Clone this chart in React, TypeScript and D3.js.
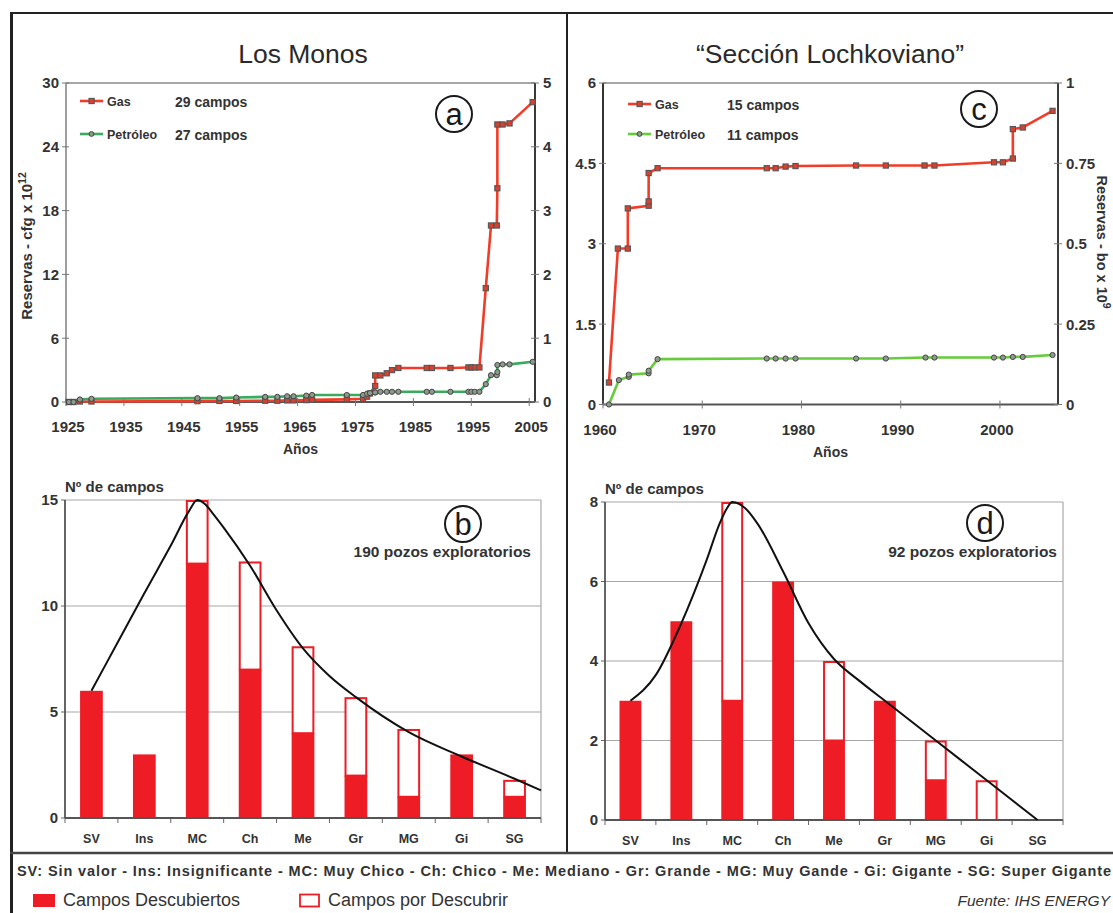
import React from "react";
import * as d3 from "d3";

// ---------- DATA ----------
// Panel a: Los Monos (cumulative reserves)
const yearsA = [1925.5, 1926.3, 1927.4, 1929.4, 1947.7, 1951.5, 1954.4, 1959.4, 1961.5, 1963.2, 1964.3, 1966.5, 1967.5, 1973.5, 1976.3, 1977.0, 1977.5, 1978.4, 1978.4, 1979.3, 1980.4, 1981.3, 1982.4, 1987.3, 1988.2, 1991.4, 1994.5, 1995.0, 1995.6, 1996.4, 1997.5, 1998.4, 1999.4, 1999.5, 1999.5, 2000.4, 2001.6, 2005.6];
const gasA = [0.0, 0.0, 0.05, 0.05, 0.08, 0.1, 0.1, 0.12, 0.12, 0.15, 0.15, 0.18, 0.2, 0.25, 0.3, 0.5, 0.8, 1.5, 2.5, 2.5, 2.7, 3.0, 3.2, 3.2, 3.2, 3.2, 3.25, 3.25, 3.25, 3.25, 10.7, 16.6, 16.6, 20.1, 26.1, 26.1, 26.2, 28.2];
const oilA = [0.0, 0.0, 0.04, 0.05, 0.06, 0.06, 0.07, 0.08, 0.08, 0.09, 0.09, 0.1, 0.11, 0.11, 0.11, 0.13, 0.14, 0.15, 0.15, 0.16, 0.16, 0.16, 0.16, 0.16, 0.16, 0.16, 0.16, 0.16, 0.16, 0.16, 0.28, 0.42, 0.42, 0.47, 0.58, 0.59, 0.59, 0.63];

// Panel c: Sección Lochkoviano
const yearsCGas = [1960.6, 1961.5, 1962.5, 1962.5, 1964.6, 1964.6, 1964.6, 1965.5, 1976.5, 1977.4, 1978.4, 1979.4, 1985.5, 1988.5, 1992.4, 1993.4, 1999.4, 2000.3, 2001.3, 2001.3, 2002.3, 2005.3];
const gasC = [0.41, 2.91, 2.91, 3.66, 3.71, 3.79, 4.32, 4.41, 4.41, 4.41, 4.44, 4.45, 4.46, 4.46, 4.46, 4.46, 4.52, 4.52, 4.59, 5.14, 5.17, 5.48];
const yearsCOil = [1960.6, 1961.6, 1962.6, 1962.6, 1964.6, 1964.6, 1965.5, 1976.5, 1977.4, 1978.4, 1979.4, 1985.5, 1988.5, 1992.5, 1993.4, 1999.4, 2000.3, 2001.3, 2002.3, 2005.3];
const oilC = [0.0, 0.076, 0.086, 0.093, 0.097, 0.105, 0.141, 0.143, 0.143, 0.143, 0.143, 0.143, 0.143, 0.146, 0.146, 0.146, 0.146, 0.148, 0.148, 0.154];

// Bar panels
const categories = ["SV", "Ins", "MC", "Ch", "Me", "Gr", "MG", "Gi", "SG"];
const discoveredB = [6, 3, 12, 7, 4, 2, 1, 3, 1];
const totalB = [6, 3, 15, 12.1, 8.1, 5.7, 4.2, 3, 1.8];
// fitted curve (position in category units, value)
const curveBPos = [0, 0.5, 1, 1.5, 1.85, 2, 2.15, 2.3, 2.5, 3, 3.5, 4, 4.5, 5, 6, 7, 8, 8.5];
const curveB = [6, 8.3, 10.6, 12.85, 14.5, 15, 14.8, 14.35, 13.7, 11.9, 9.8, 8.0, 6.7, 5.7, 4.05, 2.9, 1.85, 1.3];
const discoveredD = [3, 5, 3, 6, 2, 3, 1, 0, 0];
const totalD = [3, 5, 8, 6, 4, 3, 2, 1, 0];
const curveDPos = [0, 0.5, 1, 1.5, 1.75, 1.9, 2, 2.25, 2.5, 3, 3.5, 4, 4.5, 5, 6, 7, 8];
const curveD = [3, 3.65, 4.95, 6.55, 7.45, 7.85, 8, 7.85, 7.45, 6.25, 4.95, 4.05, 3.5, 3.0, 2.0, 1.0, 0];

// Ticks
const ticksAx = [1925, 1935, 1945, 1955, 1965, 1975, 1985, 1995, 2005];
const ticksAleft = [0, 6, 12, 18, 24, 30];
const ticksAright = [0, 1, 2, 3, 4, 5];
const ticksCx = [1960, 1970, 1980, 1990, 2000];
const ticksCleft = [0, 1.5, 3, 4.5, 6];
const ticksCright = [0, 0.25, 0.5, 0.75, 1];
const ticksB = [0, 5, 10, 15];
const ticksD = [0, 2, 4, 6, 8];

const footerText = "SV: Sin valor - Ins: Insignificante - MC: Muy Chico - Ch: Chico - Me: Mediano - Gr: Grande - MG: Muy Gande - Gi: Gigante - SG: Super Gigante";

// ---------- STYLE ----------
const FONT = "'Liberation Sans', Arial, Helvetica, sans-serif";
const RED = "#ee1c25";
const GAS = "#f23c28";
const TXT = "#2a2a2a";

function LinePanel(p: any) {
  const x = d3.scaleLinear().domain(p.xDomain).range([p.x0, p.x1]);
  const yL = d3.scaleLinear().domain([0, p.leftMax]).range([p.yBot, p.yTop]);
  const yR = d3.scaleLinear().domain([0, p.rightMax]).range([p.yBot, p.yTop]);
  const gasLine = d3.line<number>().x((_, i) => x(p.gasYears[i])).y((d) => yL(d));
  const oilLine = d3.line<number>().x((_, i) => x(p.oilYears[i])).y((d) => yR(d));
  const fmt = (v: number) => String(v);
  return (
    <g fontFamily={FONT}>
      <line x1={p.x0} x2={p.x1} y1={p.yTop} y2={p.yTop} stroke="#8a8a8a" strokeWidth={1.5} />
      <line x1={p.x0} x2={p.x0} y1={p.yTop} y2={p.yBot} stroke={p.leftAxisColor} strokeWidth={p.leftAxisWidth} />
      <line x1={p.x1} x2={p.x1} y1={p.yTop} y2={p.yBot} stroke="#3a3a3a" strokeWidth={2} />
      <line x1={p.x0} x2={p.x1} y1={p.yBot} y2={p.yBot} stroke="#555" strokeWidth={2} />
      {p.leftTicks.map((t: number) => (
        <g key={"l" + t}>
          <line x1={p.x0 - 4} x2={p.x0 + 3} y1={yL(t)} y2={yL(t)} stroke="#777" strokeWidth={1} />
          <text x={p.x0 - 7} y={yL(t)} dy="0.36em" textAnchor="end" fontSize={15} fontWeight="bold" fill="#333">{fmt(t)}</text>
        </g>
      ))}
      {p.rightTicks.map((t: number) => (
        <g key={"r" + t}>
          <line x1={p.x1 - 4} x2={p.x1 + 4} y1={yR(t)} y2={yR(t)} stroke="#777" strokeWidth={1} />
          <text x={p.x1 + 8} y={yR(t)} dy="0.36em" textAnchor="start" fontSize={15} fontWeight="bold" fill="#333">{fmt(t)}</text>
        </g>
      ))}
      {p.xTicks.map((t: number) => (
        <g key={"x" + t}>
          <line x1={x(t)} x2={x(t)} y1={p.yBot - 4} y2={p.yBot + 4} stroke="#777" strokeWidth={1} />
          <text x={x(t) + p.xLabelShift} y={p.yBot + 30} textAnchor="middle" fontSize={15} fontWeight="bold" fill="#333">{t}</text>
        </g>
      ))}
      <text x={(p.x0 + p.x1) / 2} y={p.yBot + 52} textAnchor="middle" fontSize={14} fontWeight="bold" fill="#333">Años</text>
      <path d={gasLine(p.gas) || ""} fill="none" stroke={GAS} strokeWidth={2.6} strokeLinejoin="round" />
      <path d={oilLine(p.oil) || ""} fill="none" stroke={p.oilColor} strokeWidth={2.6} strokeLinejoin="round" />
      {p.gas.map((v: number, i: number) => (
        <rect key={"gm" + i} x={x(p.gasYears[i]) - 2.6} y={yL(v) - 2.6} width={5.2} height={5.2} fill="#d9412e" stroke="#555" strokeWidth={1.1} />
      ))}
      {p.oil.map((v: number, i: number) => (
        <circle key={"om" + i} cx={x(p.oilYears[i])} cy={yR(v)} r={2.6} fill="#8f9a8f" stroke="#444" strokeWidth={1} />
      ))}
      {/* legend */}
      <line x1={p.lgX} x2={p.lgX + 23} y1={p.lgY1} y2={p.lgY1} stroke={GAS} strokeWidth={2.6} />
      <rect x={p.lgX + 9} y={p.lgY1 - 2.6} width={5.2} height={5.2} fill="#d9412e" stroke="#555" strokeWidth={1.1} />
      <text x={p.lgX + 27} y={p.lgY1 + 4.5} fontSize={12.5} fontWeight="bold" fill="#333">Gas</text>
      <line x1={p.lgX} x2={p.lgX + 23} y1={p.lgY2} y2={p.lgY2} stroke={p.oilColor} strokeWidth={2.6} />
      <circle cx={p.lgX + 11.5} cy={p.lgY2} r={2.4} fill="#8f9a8f" stroke="#444" strokeWidth={1} />
      <text x={p.lgX + 27} y={p.lgY2 + 4.5} fontSize={12.5} fontWeight="bold" fill="#333">Petróleo</text>
      <text x={p.cntX} y={p.lgY1 + 6} fontSize={14} fontWeight="bold" fill="#333">{p.gasCount}</text>
      <text x={p.cntX} y={p.lgY2 + 6} fontSize={14} fontWeight="bold" fill="#333">{p.oilCount}</text>
    </g>
  );
}

function BarPanel(p: any) {
  const x = d3.scaleLinear().domain([-0.5, categories.length - 0.5]).range([p.x0, p.x1]);
  const y = d3.scaleLinear().domain([0, p.yMax]).range([p.yBot, p.yTop]);
  const band = (p.x1 - p.x0) / categories.length;
  const bw = band * 0.43;
  const curve = d3.line<number>().x((_, i) => x(p.curvePos[i])).y((d) => y(d)).curve(d3.curveMonotoneX);
  const bounds = d3.range(categories.length + 1).map((i) => i - 0.5);
  return (
    <g fontFamily={FONT}>
      {p.ticks.filter((t: number) => t > 0).map((t: number) => (
        <line key={"g" + t} x1={p.x0} x2={p.x1} y1={y(t)} y2={y(t)} stroke="#a8a8a8" strokeWidth={1.2} />
      ))}
      <line x1={p.x1} x2={p.x1} y1={p.yTop} y2={p.yBot} stroke="#a8a8a8" strokeWidth={1.2} />
      {p.ticks.map((t: number) => (
        <g key={"t" + t}>
          <line x1={p.x0 - 4} x2={p.x0} y1={y(t)} y2={y(t)} stroke="#666" strokeWidth={1} />
          <text x={p.x0 - 7} y={y(t)} dy="0.36em" textAnchor="end" fontSize={15} fontWeight="bold" fill="#333">{t}</text>
        </g>
      ))}
      {categories.map((c, i) => (
        <g key={c}>
          {p.total[i] > p.discovered[i] && (
            <rect x={x(i) - bw / 2 + 1} y={y(p.total[i]) + 1} width={bw - 2} height={y(p.discovered[i]) - y(p.total[i]) - 1} fill="white" stroke={RED} strokeWidth={2} />
          )}
          {p.discovered[i] > 0 && (
            <rect x={x(i) - bw / 2} y={y(p.discovered[i])} width={bw} height={p.yBot - y(p.discovered[i])} fill={RED} />
          )}
          <text x={x(i)} y={p.yBot + 25} textAnchor="middle" fontSize={12.5} fontWeight="bold" fill="#333">{c}</text>
        </g>
      ))}
      {bounds.map((b, i) => (
        <line key={"b" + i} x1={x(b)} x2={x(b)} y1={p.yBot} y2={p.yBot + 5} stroke="#666" strokeWidth={1} />
      ))}
      <line x1={p.x0} x2={p.x0} y1={p.yTop} y2={p.yBot} stroke="#555" strokeWidth={1.8} />
      <line x1={p.x0} x2={p.x1} y1={p.yBot} y2={p.yBot} stroke="#555" strokeWidth={1.8} />
      <path d={curve(p.curve) || ""} fill="none" stroke="#111" strokeWidth={2} />
      <text x={p.x0} y={p.yTop - 8} fontSize={15} fontWeight="bold" fill="#333">Nº de campos</text>
      <text x={p.noteX} y={p.noteY} textAnchor="end" fontSize={15.5} fontWeight="bold" fill="#333">{p.note}</text>
    </g>
  );
}

function Circled({ cx, cy, letter }: any) {
  return (
    <g>
      <circle cx={cx} cy={cy} r={18} fill="white" stroke="#1a1a1a" strokeWidth={2} />
      <text x={cx} y={cy} dy="0.35em" textAnchor="middle" fontFamily={FONT} fontSize={31} fill="#1a1a1a">{letter}</text>
    </g>
  );
}

export default function App() {
  return (
    <svg width={1113} height={913} viewBox="0 0 1113 913" style={{ position: "absolute", left: 0, top: 0, background: "white" }}>
      <rect x={0} y={0} width={1113} height={913} fill="white" />
      {/* frame */}
      <line x1={10} x2={1113} y1={13} y2={13} stroke="#222" strokeWidth={2} />
      <line x1={11.5} x2={11.5} y1={12} y2={913} stroke="#222" strokeWidth={3} />
      <line x1={567} x2={567} y1={13} y2={853} stroke="#222" strokeWidth={2} />
      <line x1={10} x2={1113} y1={853} y2={853} stroke="#444" strokeWidth={2.5} />

      <text x={303} y={63} textAnchor="middle" fontFamily={FONT} fontSize={26.5} fill={TXT}>Los Monos</text>
      <text x={830} y={63} textAnchor="middle" fontFamily={FONT} fontSize={26.5} fill={TXT}>“Sección Lochkoviano”</text>

      <LinePanel x0={66} x1={535} yTop={83} yBot={402} xDomain={[1925, 2006]} leftMax={30} rightMax={5}
        xTicks={ticksAx} leftTicks={ticksAleft} rightTicks={ticksAright} xLabelShift={2}
        gasYears={yearsA} gas={gasA} oilYears={yearsA} oil={oilA} oilColor="#3aaa5c"
        leftAxisColor="#888" leftAxisWidth={1.6}
        lgX={80} lgY1={101} lgY2={134} cntX={175} gasCount="29 campos" oilCount="27 campos" />
      <text transform="translate(32,246) rotate(-90)" textAnchor="middle" fontFamily={FONT} fontSize={15} fontWeight="bold" fill="#333">
        Reservas - cfg x 10<tspan dy={-6} fontSize={10.5}>12</tspan>
      </text>

      <LinePanel x0={603} x1={1058} yTop={83} yBot={404.5} xDomain={[1960, 2005.85]} leftMax={6} rightMax={1}
        xTicks={ticksCx} leftTicks={ticksCleft} rightTicks={ticksCright} xLabelShift={-3}
        gasYears={yearsCGas} gas={gasC} oilYears={yearsCOil} oil={oilC} oilColor="#66cc3a"
        leftAxisColor="#333" leftAxisWidth={2}
        lgX={628} lgY1={104} lgY2={134} cntX={727} gasCount="15 campos" oilCount="11 campos" />
      <text transform="translate(1097,242) rotate(90)" textAnchor="middle" fontFamily={FONT} fontSize={14.5} fontWeight="bold" fill="#333">
        Reservas - bo x 10<tspan dy={-6} fontSize={10.5}>9</tspan>
      </text>

      <BarPanel x0={65} x1={541} yTop={500} yBot={818} yMax={15} ticks={ticksB}
        discovered={discoveredB} total={totalB} curvePos={curveBPos} curve={curveB}
        note="190 pozos exploratorios" noteX={531} noteY={557} />
      <BarPanel x0={605} x1={1063} yTop={502} yBot={820} yMax={8} ticks={ticksD}
        discovered={discoveredD} total={totalD} curvePos={curveDPos} curve={curveD}
        note="92 pozos exploratorios" noteX={1057} noteY={557} />

      <Circled cx={454} cy={114} letter="a" />
      <Circled cx={979} cy={109} letter="c" />
      <Circled cx={463} cy={524} letter="b" />
      <Circled cx={985} cy={523} letter="d" />

      {/* footer */}
      <text x={17} y={876} fontFamily={FONT} fontSize={14.5} fontWeight="bold" fill="#333" textLength={1094} lengthAdjust="spacing">{footerText}</text>
      <rect x={33} y={894} width={22} height={13} fill={RED} />
      <text x={63} y={906} fontFamily={FONT} fontSize={18} fill="#333">Campos Descubiertos</text>
      <rect x={300} y={894.5} width={19} height={12} fill="white" stroke={RED} strokeWidth={1.8} />
      <text x={328} y={906} fontFamily={FONT} fontSize={18} fill="#333">Campos por Descubrir</text>
      <text x={1110} y={906} textAnchor="end" fontFamily={FONT} fontSize={15.5} fontStyle="italic" fill="#333">Fuente: IHS ENERGY</text>
    </svg>
  );
}
